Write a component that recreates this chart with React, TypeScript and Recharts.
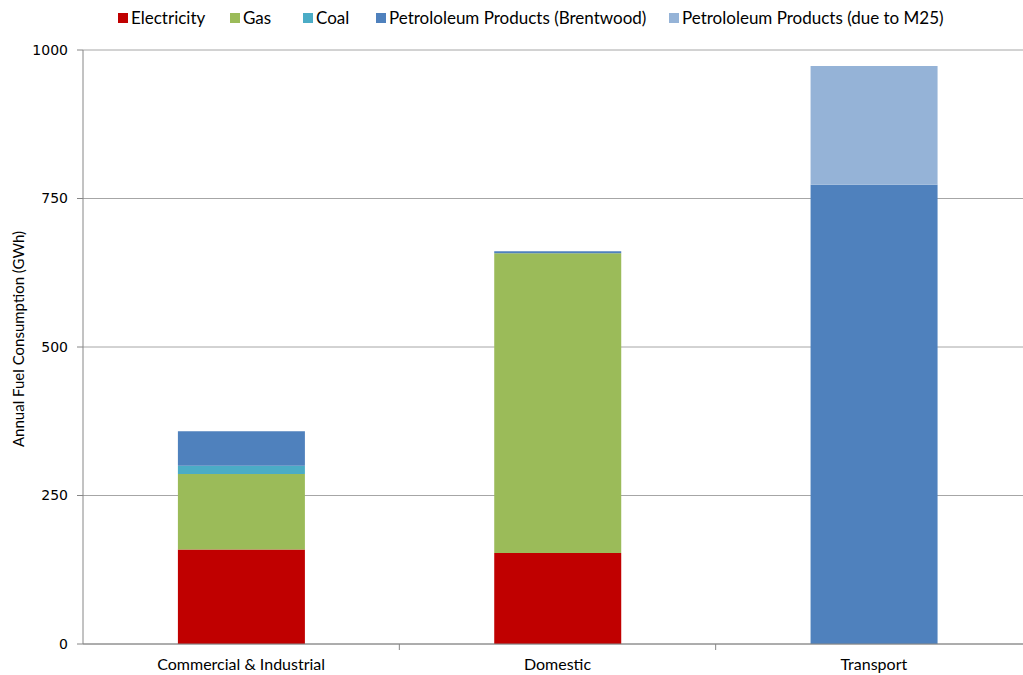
import React from 'react';
import { BarChart, Bar, XAxis, YAxis, CartesianGrid } from 'recharts';

const sectors = ['Commercial & Industrial', 'Domestic', 'Transport'];
const electricity = [159, 153, 0];
const gas = [127, 505, 0];
const coal = [14, 0, 0];
const petrolBrentwood = [58, 3, 773];
const petrolM25 = [0, 0, 200];
const yTicks = [0, 250, 500, 750, 1000];

const series = [
  { key: 'electricity', name: 'Electricity', color: '#C00000', slot: 112 },
  { key: 'gas', name: 'Gas', color: '#9BBB59', slot: 73 },
  { key: 'coal', name: 'Coal', color: '#4BACC6', slot: 73 },
  { key: 'petrolBrentwood', name: 'Petrololeum Products (Brentwood)', color: '#4F81BD', slot: 293 },
  { key: 'petrolM25', name: 'Petrololeum Products (due to M25)', color: '#95B3D7', slot: 0 },
];

const data = sectors.map((sector, i) => ({
  sector,
  electricity: electricity[i],
  gas: gas[i],
  coal: coal[i],
  petrolBrentwood: petrolBrentwood[i],
  petrolM25: petrolM25[i],
}));

const FONT = 'Lato, "Liberation Sans", sans-serif';
const AXIS = '#868686';

// the plot runs a little past the right edge of the visible frame
const FRAME_W = 1023;
const WIDTH = 1032;
const HEIGHT = 675;
const MARGIN = { top: 50, right: 0, bottom: 1, left: 0 };
const Y_WIDTH = 83;

// category label plus a tick mark on the boundary between neighbouring categories
const CategoryTick = (props: any) => {
  const { x, y, payload, index } = props;
  const step = (WIDTH - MARGIN.left - MARGIN.right - Y_WIDTH) / sectors.length;
  return (
    <g>
      {index < sectors.length - 1 && (
        <line x1={x + step / 2} x2={x + step / 2} y1={y - 8} y2={y - 2} stroke={AXIS} />
      )}
      <text x={x} y={y + 18} textAnchor="middle" fontSize={16} fill="#000" fontFamily={FONT}>
        {payload.value}
      </text>
    </g>
  );
};

const AxisTitle = () => (
  <text
    transform="rotate(-90)"
    x={-339}
    y={24}
    textAnchor="middle"
    fontSize={15}
    fill="#000"
    fontFamily={FONT}
  >
    Annual Fuel Consumption (GWh)
  </text>
);

// legend row across the top of the chart
const LegendRow = () => (
  <div
    style={{
      position: 'absolute',
      top: 7,
      left: 118,
      display: 'flex',
      fontFamily: FONT,
      fontSize: 17,
      lineHeight: '22px',
      color: '#000',
      whiteSpace: 'nowrap',
    }}
  >
    {series.map((s) => (
      <span key={s.key} style={{ display: 'flex', alignItems: 'center', width: s.slot || undefined }}>
        <span style={{ width: 10, height: 10, background: s.color, display: 'inline-block', marginRight: 3 }} />
        {s.name}
      </span>
    ))}
  </div>
);

export default function App() {
  return (
    <div
      style={{
        position: 'absolute',
        left: 0,
        top: 0,
        width: FRAME_W,
        height: HEIGHT,
        overflow: 'hidden',
        background: '#fff',
      }}
    >
      <BarChart width={WIDTH} height={HEIGHT} data={data} margin={MARGIN} barCategoryGap="30%">
        <CartesianGrid horizontal vertical={false} stroke="#A6A6A6" />
        <XAxis
          dataKey="sector"
          stroke={AXIS}
          height={30}
          tickLine={false}
          tick={<CategoryTick />}
          interval={0}
        />
        <YAxis
          width={Y_WIDTH}
          domain={[0, 1000]}
          ticks={yTicks}
          stroke={AXIS}
          tickSize={6}
          tickMargin={9}
          tick={{ fontSize: 14, fill: '#000', fontFamily: 'Verdana, "DejaVu Sans", sans-serif' }}
          label={<AxisTitle />}
        />
        {series.map((s) => (
          <Bar key={s.key} dataKey={s.key} name={s.name} stackId="fuel" fill={s.color} isAnimationActive={false} />
        ))}
      </BarChart>
      <LegendRow />
    </div>
  );
}
